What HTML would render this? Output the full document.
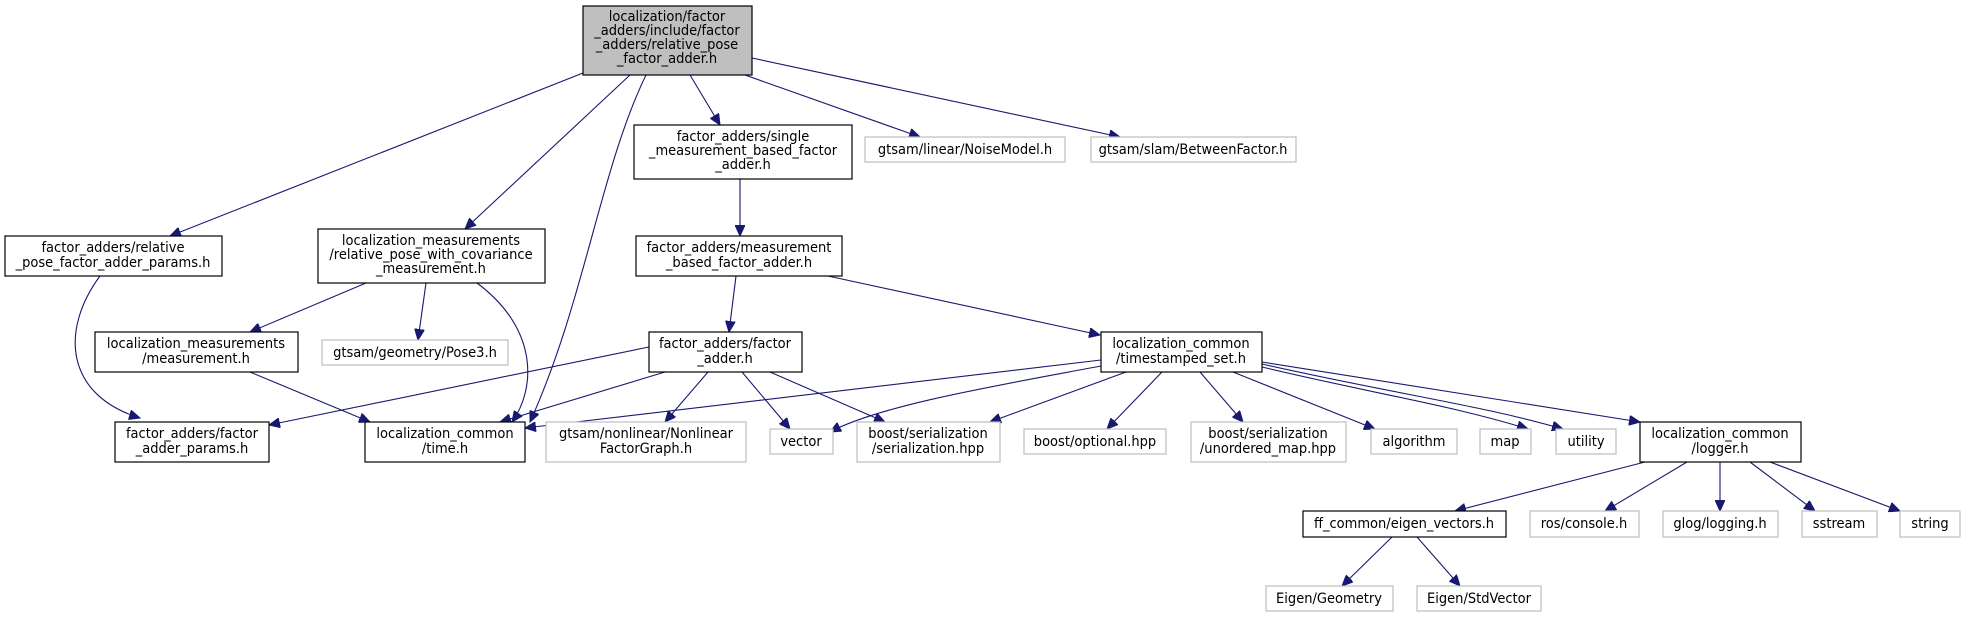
<!DOCTYPE html>
<html><head><meta charset="utf-8"><style>
html,body{margin:0;padding:0;background:#fff;}
svg{display:block;}
text{font-family:"DejaVu Sans Condensed","DejaVu Sans","Liberation Sans",sans-serif;font-stretch:condensed;font-size:14.5px;fill:#000;text-anchor:middle;}
.n{fill:#fff;stroke:#000;stroke-width:1.2;}
.g{fill:#fff;stroke:#bfbfbf;stroke-width:1.2;}
.e{fill:none;stroke:#191970;stroke-width:1.1;marker-end:url(#a);}
</style></head><body>
<svg width="1965" height="617" viewBox="0 0 1965 617" xmlns="http://www.w3.org/2000/svg">
<defs><marker id="a" markerUnits="userSpaceOnUse" markerWidth="12" markerHeight="10" refX="11" refY="5" orient="auto"><path d="M0,0 L11,5 L0,10 Z" fill="#191970" stroke="#191970"/></marker></defs>

<path class="e" d="M583,73 L170,236"/>
<path class="e" d="M630,75 L465,229"/>
<path class="e" d="M646,75 C600,170 585,300 530,422"/>
<path class="e" d="M690,75 L720,125"/>
<path class="e" d="M745,75 L920,137"/>
<path class="e" d="M752,58 L1120,137"/>
<path class="e" d="M740,179 L740,236"/>
<path class="e" d="M736,276 L729,332"/>
<path class="e" d="M828,276 L1100,335"/>
<path class="e" d="M100,276 C60,330 65,395 140,418"/>
<path class="e" d="M366,283 L250,332"/>
<path class="e" d="M426,283 L418,340"/>
<path class="e" d="M477,283 C540,330 535,390 512,422"/>
<path class="e" d="M250,372 L370,422"/>
<path class="e" d="M649,347 L269,425"/>
<path class="e" d="M665,372 L500,422"/>
<path class="e" d="M708,372 L665,422"/>
<path class="e" d="M742,372 L790,429"/>
<path class="e" d="M770,372 L885,422"/>
<path class="e" d="M1101,360 L525,428"/>
<path class="e" d="M1101,366 C1000,385 880,405 830,432"/>
<path class="e" d="M1126,372 L990,422"/>
<path class="e" d="M1162,372 L1107,429"/>
<path class="e" d="M1200,372 L1243,422"/>
<path class="e" d="M1233,372 L1375,429"/>
<path class="e" d="M1262,367 C1380,395 1450,405 1528,429"/>
<path class="e" d="M1262,364 C1400,395 1480,405 1563,429"/>
<path class="e" d="M1262,362 L1640,422"/>
<path class="e" d="M1645,462 L1455,511"/>
<path class="e" d="M1687,462 L1605,511"/>
<path class="e" d="M1720,462 L1720,511"/>
<path class="e" d="M1750,462 L1815,511"/>
<path class="e" d="M1770,462 L1900,511"/>
<path class="e" d="M1392,537 L1342,586"/>
<path class="e" d="M1417,537 L1460,586"/>

<rect x="583" y="6" width="169" height="69" fill="#bfbfbf" stroke="#000" stroke-width="1.2"/>
<text x="667" y="21">localization/factor</text><text x="667" y="35">_adders/include/factor</text><text x="667" y="49">_adders/relative_pose</text><text x="667" y="63">_factor_adder.h</text>

<rect class="n" x="5" y="236" width="217" height="40"/>
<text x="113" y="252">factor_adders/relative</text><text x="113" y="267">_pose_factor_adder_params.h</text>

<rect class="n" x="318" y="229" width="227" height="54"/>
<text x="431" y="245">localization_measurements</text><text x="431" y="259">/relative_pose_with_covariance</text><text x="431" y="273">_measurement.h</text>

<rect class="n" x="634" y="125" width="218" height="54"/>
<text x="743" y="141">factor_adders/single</text><text x="743" y="155">_measurement_based_factor</text><text x="743" y="169">_adder.h</text>

<rect class="g" x="865" y="137" width="200" height="25"/><text x="965" y="154">gtsam/linear/NoiseModel.h</text>
<rect class="g" x="1091" y="137" width="205" height="25"/><text x="1193" y="154">gtsam/slam/BetweenFactor.h</text>

<rect class="n" x="636" y="236" width="206" height="40"/>
<text x="739" y="252">factor_adders/measurement</text><text x="739" y="267">_based_factor_adder.h</text>

<rect class="n" x="95" y="332" width="203" height="40"/>
<text x="196" y="348">localization_measurements</text><text x="196" y="363">/measurement.h</text>

<rect class="g" x="322" y="340" width="186" height="25"/><text x="415" y="357">gtsam/geometry/Pose3.h</text>

<rect class="n" x="649" y="332" width="153" height="40"/>
<text x="725" y="348">factor_adders/factor</text><text x="725" y="363">_adder.h</text>

<rect class="n" x="1101" y="332" width="161" height="40"/>
<text x="1181" y="348">localization_common</text><text x="1181" y="363">/timestamped_set.h</text>

<rect class="n" x="115" y="422" width="154" height="40"/>
<text x="192" y="438">factor_adders/factor</text><text x="192" y="453">_adder_params.h</text>

<rect class="n" x="365" y="422" width="160" height="40"/>
<text x="445" y="438">localization_common</text><text x="445" y="453">/time.h</text>

<rect class="g" x="546" y="422" width="200" height="40"/>
<text x="646" y="438">gtsam/nonlinear/Nonlinear</text><text x="646" y="453">FactorGraph.h</text>

<rect class="g" x="770" y="429" width="63" height="25"/><text x="801" y="446">vector</text>
<rect class="g" x="857" y="422" width="143" height="40"/>
<text x="928" y="438">boost/serialization</text><text x="928" y="453">/serialization.hpp</text>
<rect class="g" x="1024" y="429" width="142" height="25"/><text x="1095" y="446">boost/optional.hpp</text>
<rect class="g" x="1191" y="422" width="155" height="40"/>
<text x="1268" y="438">boost/serialization</text><text x="1268" y="453">/unordered_map.hpp</text>
<rect class="g" x="1371" y="429" width="86" height="25"/><text x="1414" y="446">algorithm</text>
<rect class="g" x="1480" y="429" width="51" height="25"/><text x="1505" y="446">map</text>
<rect class="g" x="1556" y="429" width="60" height="25"/><text x="1586" y="446">utility</text>

<rect class="n" x="1640" y="422" width="161" height="40"/>
<text x="1720" y="438">localization_common</text><text x="1720" y="453">/logger.h</text>

<rect class="n" x="1303" y="511" width="203" height="26"/><text x="1404" y="528">ff_common/eigen_vectors.h</text>
<rect class="g" x="1530" y="511" width="109" height="26"/><text x="1584" y="528">ros/console.h</text>
<rect class="g" x="1663" y="511" width="115" height="26"/><text x="1720" y="528">glog/logging.h</text>
<rect class="g" x="1802" y="511" width="75" height="26"/><text x="1839" y="528">sstream</text>
<rect class="g" x="1900" y="511" width="60" height="26"/><text x="1930" y="528">string</text>

<rect class="g" x="1266" y="586" width="127" height="25"/><text x="1329" y="603">Eigen/Geometry</text>
<rect class="g" x="1417" y="586" width="124" height="25"/><text x="1479" y="603">Eigen/StdVector</text>
</svg>
</body></html>
